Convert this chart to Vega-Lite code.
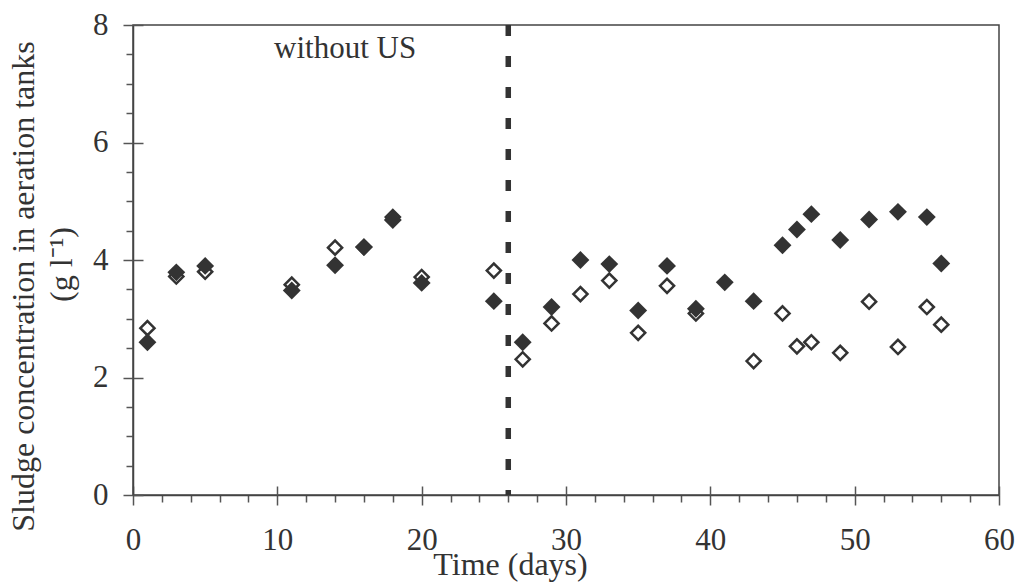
{
  "$schema": "https://vega.github.io/schema/vega-lite/v6.json",
  "width": 866,
  "height": 470,
  "autosize": {"type": "none"},
  "padding": {"left": 133, "top": 25, "right": 19, "bottom": 93},
  "background": "white",
  "config": {
    "view": {"stroke": "#444444", "strokeWidth": 1.5},
    "font": "Liberation Serif"
  },
  "datasets": {
    "points": [
      {"day": 1, "series": "filled", "conc": 2.60},
      {"day": 3, "series": "filled", "conc": 3.79},
      {"day": 5, "series": "filled", "conc": 3.90},
      {"day": 11, "series": "filled", "conc": 3.48},
      {"day": 14, "series": "filled", "conc": 3.91},
      {"day": 16, "series": "filled", "conc": 4.22},
      {"day": 18, "series": "filled", "conc": 4.68},
      {"day": 20, "series": "filled", "conc": 3.61},
      {"day": 25, "series": "filled", "conc": 3.30},
      {"day": 27, "series": "filled", "conc": 2.60},
      {"day": 29, "series": "filled", "conc": 3.20},
      {"day": 31, "series": "filled", "conc": 4.00},
      {"day": 33, "series": "filled", "conc": 3.93},
      {"day": 35, "series": "filled", "conc": 3.14},
      {"day": 37, "series": "filled", "conc": 3.90},
      {"day": 39, "series": "filled", "conc": 3.17},
      {"day": 41, "series": "filled", "conc": 3.62},
      {"day": 43, "series": "filled", "conc": 3.30},
      {"day": 45, "series": "filled", "conc": 4.25},
      {"day": 46, "series": "filled", "conc": 4.52},
      {"day": 47, "series": "filled", "conc": 4.78},
      {"day": 49, "series": "filled", "conc": 4.34},
      {"day": 51, "series": "filled", "conc": 4.69},
      {"day": 53, "series": "filled", "conc": 4.82},
      {"day": 55, "series": "filled", "conc": 4.73},
      {"day": 56, "series": "filled", "conc": 3.94},
      {"day": 1, "series": "open", "conc": 2.84},
      {"day": 3, "series": "open", "conc": 3.72},
      {"day": 5, "series": "open", "conc": 3.80},
      {"day": 11, "series": "open", "conc": 3.58},
      {"day": 14, "series": "open", "conc": 4.21},
      {"day": 16, "series": "open", "conc": 4.22},
      {"day": 18, "series": "open", "conc": 4.73},
      {"day": 20, "series": "open", "conc": 3.71},
      {"day": 25, "series": "open", "conc": 3.82},
      {"day": 27, "series": "open", "conc": 2.31},
      {"day": 29, "series": "open", "conc": 2.92},
      {"day": 31, "series": "open", "conc": 3.42},
      {"day": 33, "series": "open", "conc": 3.65},
      {"day": 35, "series": "open", "conc": 2.76},
      {"day": 37, "series": "open", "conc": 3.56},
      {"day": 39, "series": "open", "conc": 3.09},
      {"day": 43, "series": "open", "conc": 2.28},
      {"day": 45, "series": "open", "conc": 3.09},
      {"day": 46, "series": "open", "conc": 2.53},
      {"day": 47, "series": "open", "conc": 2.60},
      {"day": 49, "series": "open", "conc": 2.42},
      {"day": 51, "series": "open", "conc": 3.29},
      {"day": 53, "series": "open", "conc": 2.52},
      {"day": 55, "series": "open", "conc": 3.20},
      {"day": 56, "series": "open", "conc": 2.90}
    ],
    "boundary": [{"day": 26}],
    "labels": [{"day": 14.7, "conc": 7.43, "text": "without US"}]
  },
  "layer": [
    {
      "data": {"name": "points"},
      "transform": [{"filter": "datum.series === 'open'"}],
      "mark": {"type": "point", "shape": "diamond", "filled": true, "fill": "white", "stroke": "#333333", "strokeWidth": 2.5, "size": 200, "opacity": 1},
      "encoding": {
        "x": {
          "field": "day", "type": "quantitative",
          "scale": {"domain": [0, 60], "nice": false},
          "axis": {
            "orient": "bottom",
            "values": [0,2,4,6,8,10,12,14,16,18,20,22,24,26,28,30,32,34,36,38,40,42,44,46,48,50,52,54,56,58,60],
            "labelExpr": "datum.value % 10 === 0 ? format(datum.value, 'd') : ''",
            "tickSize": {"condition": {"test": "datum.value % 10 === 0", "value": 10}, "value": 7},
            "tickColor": "#555555", "tickWidth": 1.5,
            "domainColor": "#444444", "domainWidth": 1.5,
            "grid": false,
            "labelFont": "Liberation Serif", "labelFontSize": 31, "labelColor": "#333333",
            "labelBaseline": "alphabetic", "labelPadding": 44,
            "labelFlush": false, "labelOverlap": false, "labelBound": false,
            "title": "Time (days)",
            "titleFont": "Liberation Serif", "titleFontSize": 32, "titleFontWeight": "normal", "titleColor": "#333333",
            "titleX": 377, "titleY": 79, "titleBaseline": "alphabetic", "titleAlign": "center"
          }
        },
        "y": {
          "field": "conc", "type": "quantitative",
          "scale": {"domain": [0, 8], "nice": false},
          "axis": {
            "orient": "left",
            "values": [0,0.5,1,1.5,2,2.5,3,3.5,4,4.5,5,5.5,6,6.5,7,7.5,8],
            "labelExpr": "datum.value % 2 === 0 ? format(datum.value, 'd') : ''",
            "tickSize": {"condition": {"test": "datum.value % 2 === 0", "value": 10}, "value": 7},
            "tickColor": "#555555", "tickWidth": 1.5,
            "domainColor": "#444444", "domainWidth": 1.5,
            "grid": false,
            "labelFont": "Liberation Serif", "labelFontSize": 31, "labelColor": "#333333",
            "labelBaseline": "middle", "labelPadding": 15,
            "labelFlush": false, "labelOverlap": false, "labelBound": false,
            "title": "Sludge concentration in aeration tanks",
            "titleFont": "Liberation Serif", "titleFontSize": 32, "titleFontWeight": "normal", "titleColor": "#333333",
            "titleX": -100, "titleY": 261, "titleAngle": -90, "titleBaseline": "alphabetic", "titleAlign": "center"
          }
        }
      }
    },
    {
      "data": {"name": "points"},
      "transform": [{"filter": "datum.series === 'filled'"}],
      "mark": {"type": "point", "shape": "diamond", "filled": true, "fill": "#333333", "strokeWidth": 0, "size": 320, "opacity": 1},
      "encoding": {
        "x": {"field": "day", "type": "quantitative", "axis": null},
        "y": {"field": "conc", "type": "quantitative", "axis": null}
      }
    },
    {
      "data": {"name": "boundary"},
      "mark": {"type": "rule", "color": "#333333", "strokeWidth": 5.5, "strokeDash": [11, 20]},
      "encoding": {
        "x": {"field": "day", "type": "quantitative", "axis": null}
      }
    },
    {
      "data": {"name": "labels"},
      "mark": {"type": "text", "font": "Liberation Serif", "fontSize": 31, "color": "#333333", "align": "center", "baseline": "alphabetic"},
      "encoding": {
        "x": {
          "field": "day", "type": "quantitative",
          "axis": {
            "orient": "bottom",
            "values": [0,10,20,30,40,50,60],
            "tickSize": -9, "tickColor": "#555555", "tickWidth": 1.5,
            "labels": false, "domain": false, "grid": false, "title": null
          }
        },
        "y": {
          "field": "conc", "type": "quantitative",
          "axis": {
            "orient": "left",
            "values": [0,2,4,6,8],
            "tickSize": -10, "tickColor": "#555555", "tickWidth": 1.5,
            "labels": false, "domain": false, "grid": false,
            "title": "(g l⁻¹)",
            "titleFont": "Liberation Serif", "titleFontSize": 32, "titleFontWeight": "normal", "titleColor": "#333333",
            "titleX": -62, "titleY": 239, "titleAngle": -90, "titleBaseline": "alphabetic", "titleAlign": "center"
          }
        },
        "text": {"field": "text"}
      }
    }
  ],
  "resolve": {"axis": {"x": "independent", "y": "independent"}}
}
